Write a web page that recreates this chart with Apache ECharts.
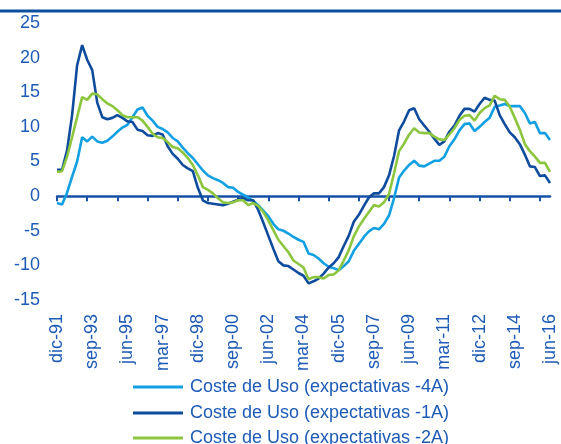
<!DOCTYPE html>
<html>
<head>
<meta charset="utf-8">
<script src="https://cdn.jsdelivr.net/npm/echarts@6/dist/echarts.min.js"></script>
<style>html,body{margin:0;padding:0;background:#fff}#c{width:561px;height:444px}</style>
</head>
<body>
<div id="c"></div>
<script>
// Quarterly categories dic-91 .. jun-16
const monthNames = ['mar', 'jun', 'sep', 'dic'];
const categories = [];
for (let i = 0; i < 99; i++) {
  const k = 3 + i;
  const yy = (1991 + Math.floor(k / 4)) % 100;
  categories.push(monthNames[k % 4] + '-' + String(yy).padStart(2, '0'));
}

const seriesNames = [
  'Coste de Uso (expectativas -4A)',
  'Coste de Uso (expectativas -1A)',
  'Coste de Uso (expectativas -2A)'
];

const uso4A = [-1.0,-1.2,0.5,2.8,5.0,8.5,7.9,8.6,7.9,7.7,8.0,8.6,9.3,9.9,10.3,11.4,12.5,12.8,11.6,10.9,
  10.0,9.7,9.2,8.4,7.9,7.0,6.2,5.5,4.6,3.7,3.0,2.6,2.3,1.9,1.3,1.2,0.6,0.2,-0.2,-0.7,
  -1.3,-2.1,-2.9,-4.0,-4.8,-5.0,-5.4,-5.9,-6.3,-6.6,-8.3,-8.5,-9.0,-9.7,-10.2,-10.4,-10.7,-10.1,-9.4,-7.9,
  -6.9,-5.9,-5.1,-4.6,-4.8,-4.0,-2.8,-0.3,2.7,3.7,4.5,5.1,4.4,4.3,4.7,5.1,5.1,5.7,7.2,8.2,
  9.5,10.4,10.5,9.4,10.0,10.7,11.3,12.9,13.1,13.3,13.0,13.0,13.0,12.0,10.5,10.7,9.1,9.1,8.1];

const uso1A = [3.8,3.8,6.6,11.7,18.9,21.8,19.7,18.2,13.5,11.4,11.1,11.3,11.7,11.3,10.8,10.7,9.6,9.4,8.8,8.7,
  9.1,8.9,7.2,6.1,5.4,4.5,4.0,3.6,1.2,-0.6,-1.0,-1.1,-1.2,-1.3,-1.1,-0.8,-0.5,-0.3,-0.6,-0.6,
  -2.0,-3.8,-5.7,-7.6,-9.4,-10.0,-10.1,-10.6,-11.1,-11.5,-12.6,-12.3,-11.9,-11.2,-10.3,-9.7,-8.8,-7.2,-5.7,-3.7,
  -2.7,-1.4,-0.2,0.4,0.4,1.3,3.0,5.8,9.5,10.8,12.4,12.7,11.1,10.2,9.3,8.3,7.4,7.9,9.3,10.2,
  11.6,12.6,12.6,12.2,13.3,14.2,13.9,13.8,11.7,10.4,9.2,8.5,7.5,6.0,4.3,4.2,2.9,3.0,1.9];

const uso2A = [3.5,3.6,5.7,8.5,11.4,14.3,13.9,14.8,14.7,14.0,13.4,13.0,12.4,11.7,11.4,11.4,11.4,10.9,10.0,9.0,
  8.5,8.4,7.8,7.1,6.9,6.3,5.5,4.5,3.0,1.3,0.9,0.4,-0.3,-0.9,-1.0,-0.9,-0.6,-0.6,-1.3,-1.0,
  -1.4,-2.3,-3.5,-4.9,-6.3,-7.2,-8.1,-9.3,-9.8,-10.3,-12.0,-11.7,-11.7,-11.9,-11.4,-11.3,-10.7,-9.3,-7.8,-5.8,
  -4.4,-3.3,-2.3,-1.3,-1.5,-0.9,0.3,3.3,6.5,7.6,8.9,9.8,9.2,9.1,9.1,8.6,8.2,8.1,8.9,9.8,
  11.0,11.6,11.7,10.9,12.0,12.7,13.1,14.5,14.0,13.9,12.9,11.3,9.6,7.5,6.5,5.7,4.8,4.8,3.5];

const colors = ['#12A0E3', '#0F4C9E', '#8CC63E'];
const textColor = '#1D5BB6';
const axisColor = '#1651A6';
const font = 'Liberation Sans, Arial, sans-serif';

const chart = echarts.init(document.getElementById('c'), null, {renderer: 'canvas'});
const mk = (name, data, color) => ({
  name, type: 'line', data, xAxisIndex: 0, yAxisIndex: 0,
  symbol: 'none', smooth: false,
  lineStyle: {color, width: 2.6},
  itemStyle: {color},
  animation: false
});
const legendTops = [373, 399, 424];
const mkLegend = (name, top) => ({
  orient: 'horizontal', left: 128, top,
  icon: 'rect', itemWidth: 50, itemHeight: 3, itemGap: 0,
  textStyle: {color: textColor, fontSize: 18, fontFamily: font, padding: [0, 0, 0, 2]},
  data: [name]
});

chart.setOption({
  animation: false,
  backgroundColor: '#ffffff',
  textStyle: {fontFamily: font},
  grid: {left: 57, right: 11, top: 23, bottom: 144, containLabel: false},
  graphic: [{
    type: 'rect', left: 0, top: 9.5, shape: {width: 561, height: 3},
    style: {fill: '#0B50A0'}
  }],
  legend: seriesNames.map((n, i) => mkLegend(n, legendTops[i])),
  xAxis: [{
    type: 'category', data: categories, boundaryGap: false, position: 'bottom',
    axisLine: {show: false, onZero: false}, axisTick: {show: false}, splitLine: {show: false},
    axisLabel: {interval: 6, rotate: 90, margin: 14, color: textColor, fontSize: 18, fontFamily: font}
  }, {
    type: 'category', data: categories, boundaryGap: false, position: 'top',
    axisLine: {show: true, onZero: true, lineStyle: {color: axisColor, width: 2.5}},
    axisTick: {show: true, inside: true, interval: 5, length: 5, lineStyle: {color: axisColor, width: 2}},
    axisLabel: {show: false}, splitLine: {show: false}
  }],
  yAxis: {
    type: 'value', min: -15, max: 25, interval: 5,
    axisLine: {show: false}, axisTick: {show: false}, splitLine: {show: false},
    axisLabel: {margin: 17, color: textColor, fontSize: 18, fontFamily: font}
  },
  series: [
    mk(seriesNames[0], uso4A, colors[0]),
    mk(seriesNames[1], uso1A, colors[1]),
    mk(seriesNames[2], uso2A, colors[2])
  ]
});
</script>
</body>
</html>
